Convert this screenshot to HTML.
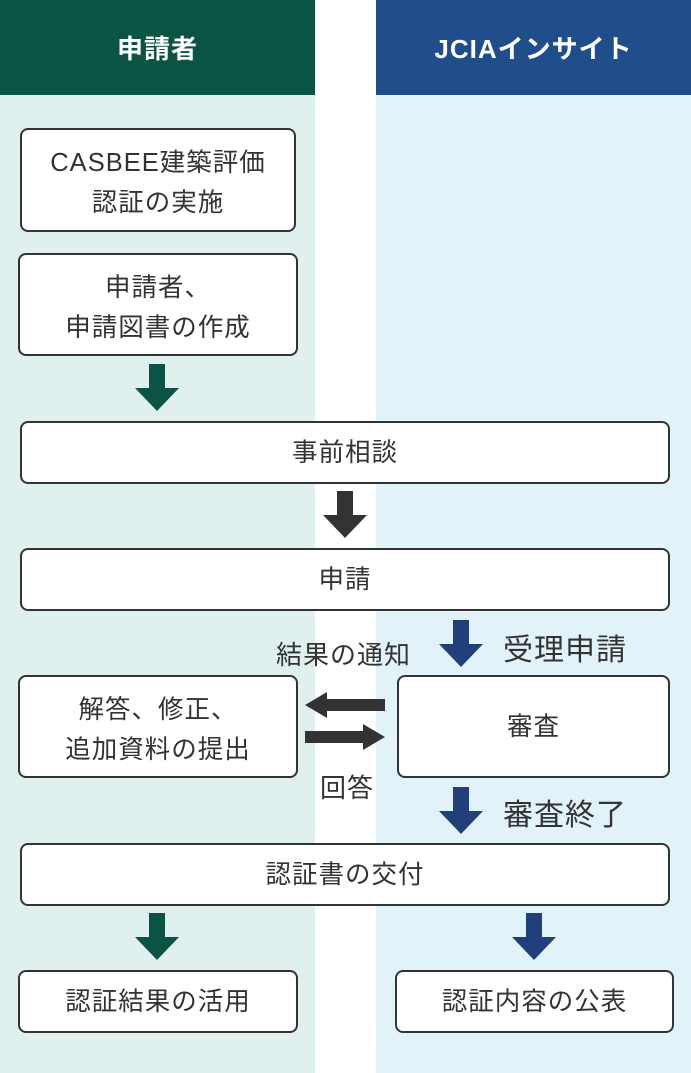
<!DOCTYPE html>
<html><head><meta charset="utf-8"><style>
body{margin:0;width:691px;height:1073px;position:relative;background:#fff;font-family:"Liberation Sans","Noto Sans CJK JP",sans-serif;overflow:hidden}
.a{position:absolute}
.box{position:absolute;box-sizing:border-box;border:2px solid #333;border-radius:8px;background:#fff;display:flex;align-items:center;justify-content:center;text-align:center;font-size:25.5px;letter-spacing:1px;line-height:40px;color:#333}
.two{padding-top:6px}
.lbl{position:absolute;color:#333;white-space:nowrap}
.hd{color:#fff;font-weight:bold;font-size:26px;letter-spacing:1px;display:flex;align-items:center;justify-content:center}
</style></head><body>
<div class="a hd" style="left:0;top:0;width:315px;height:95px;background:#0b5344">申請者</div>
<div class="a hd" style="left:376px;top:0;width:315px;height:95px;background:#1f4e8b">JCIAインサイト</div>
<div class="a" style="left:0;top:95px;width:315px;height:978px;background:#e0f0ee"></div>
<div class="a" style="left:376px;top:95px;width:315px;height:978px;background:#e2f2f9"></div>

<div class="box two" style="left:20px;top:128px;width:276px;height:104px">CASBEE建築評価<br>認証の実施</div>
<div class="box two" style="left:18px;top:253px;width:280px;height:103px">申請者、<br>申請図書の作成</div>
<div class="box" style="left:20px;top:421px;width:650px;height:63px">事前相談</div>
<div class="box" style="left:20px;top:548px;width:650px;height:63px">申請</div>
<div class="box two" style="left:18px;top:675px;width:280px;height:103px">解答、修正、<br>追加資料の提出</div>
<div class="box" style="left:397px;top:675px;width:273px;height:103px">審査</div>
<div class="box" style="left:20px;top:843px;width:650px;height:63px">認証書の交付</div>
<div class="box" style="left:18px;top:970px;width:280px;height:63px">認証結果の活用</div>
<div class="box" style="left:395px;top:970px;width:279px;height:63px">認証内容の公表</div>

<svg class="a" style="left:0;top:0" width="691" height="1073">
<g fill="#0b5344">
<polygon points="149,364 165,364 165,388 179,388 157,411 135,388 149,388"/>
<polygon points="149,913 165,913 165,937 179,937 157,960 135,937 149,937"/>
</g>
<polygon fill="#333" points="337,491 353,491 353,515 367,515 345,538 323,515 337,515"/>
<g fill="#213f7a">
<polygon points="453,620 469,620 469,644 483,644 461,667 439,644 453,644"/>
<polygon points="453,787 469,787 469,811 483,811 461,834 439,811 453,811"/>
<polygon points="526,913 542,913 542,937 556,937 534,960 512,937 526,937"/>
</g>
<g fill="#333">
<polygon points="385,699 385,711 327,711 327,718 305,705 327,692 327,699"/>
<polygon points="305,731 305,743 363,743 363,750 385,737 363,724 363,731"/>
</g>
</svg>
<div class="lbl" style="left:276px;top:635px;font-size:26px;letter-spacing:1px">結果の通知</div>
<div class="lbl" style="left:320px;top:768px;font-size:26px;letter-spacing:1px">回答</div>
<div class="lbl" style="left:503px;top:625px;font-size:30px;letter-spacing:1px">受理申請</div>
<div class="lbl" style="left:503px;top:790px;font-size:30px;letter-spacing:1px">審査終了</div>
</body></html>
